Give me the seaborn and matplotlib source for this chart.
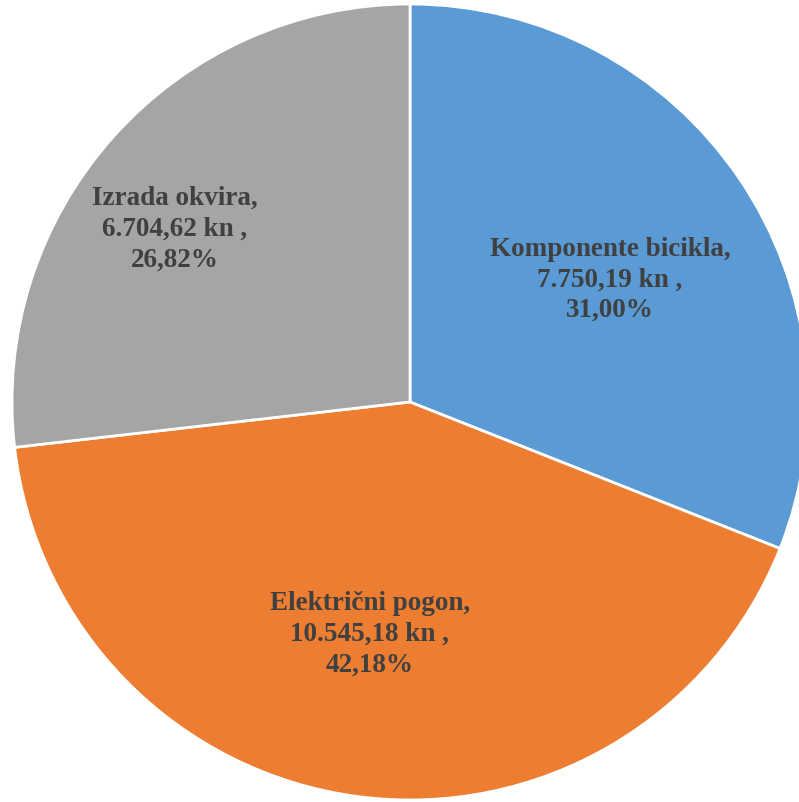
import numpy as np
import matplotlib
matplotlib.use("Agg")
import matplotlib.pyplot as plt
import seaborn as sns

categories = ["Komponente bicikla", "Električni pogon", "Izrada okvira"]
values = [7750.19, 10545.18, 6704.62]
value_labels = ["7.750,19 kn", "10.545,18 kn", "6.704,62 kn"]
percent_labels = ["31,00%", "42,18%", "26,82%"]
colors = ["#5B9BD5", "#ED7D31", "#A5A5A5"]

sns.set_theme(style="white")
plt.rcParams['font.family'] = ['Liberation Serif', 'DejaVu Serif']

fig = plt.figure(figsize=(7.99, 8.03), dpi=100)
ax = fig.add_axes([0, 0, 1, 1])

cx, cy, r = 410, -403, 398
wedges, _ = ax.pie(values, colors=colors, startangle=90, counterclock=False,
                   center=(cx, cy), radius=r, frame=True,
                   wedgeprops=dict(edgecolor='white', linewidth=2))
ax.set_xlim(0, 799)
ax.set_ylim(-803, 0)
ax.set_aspect('equal')
ax.axis('off')

# label placement (fraction of radius, angular nudge in degrees)
dist = [0.59, 0.59, 0.735]
nudge = [-2.6, -2.3, 5.3]
for w, cat, vl, pl, d, n in zip(wedges, categories, value_labels, percent_labels, dist, nudge):
    ang = np.deg2rad((w.theta1 + w.theta2) / 2 + n)
    x = cx + d * r * np.cos(ang)
    y = cy + d * r * np.sin(ang)
    ax.text(x, y, f"{cat},\n{vl} ,\n{pl}", ha='center', va='center',
            fontsize=19.5, fontweight='bold', color='#404040', linespacing=1.3)

fig.savefig("out.png", dpi=100)
